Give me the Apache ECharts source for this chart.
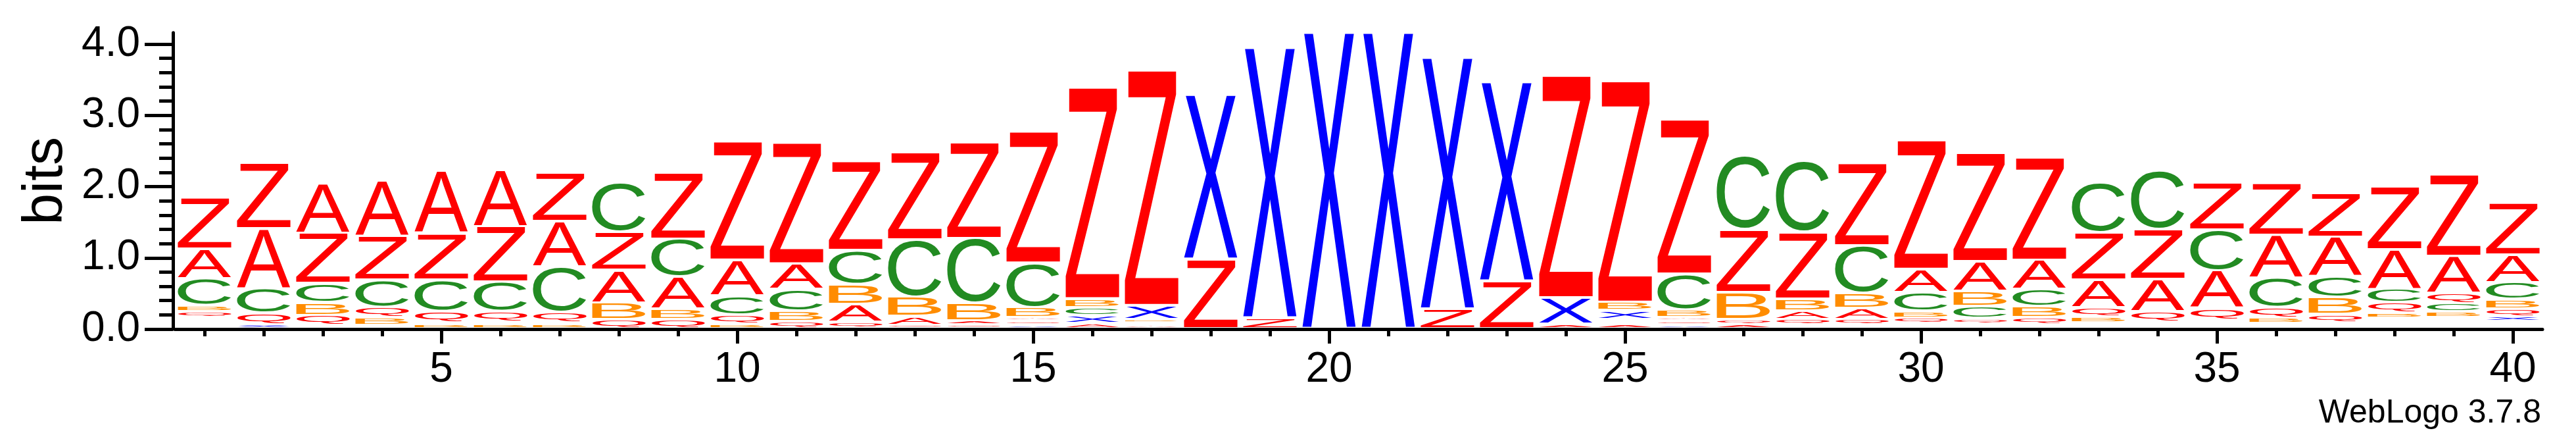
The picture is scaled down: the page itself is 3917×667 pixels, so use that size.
<!DOCTYPE html>
<html>
<head>
<meta charset="utf-8">
<script src="https://cdn.jsdelivr.net/npm/echarts@6/dist/echarts.min.js"></script>
<style>
  html, body { margin: 0; padding: 0; background: #fff; }
  #logo { width: 3917px; height: 667px; }
</style>
</head>
<body>
<div id="logo"></div>
<script>
// sequence positions along the x axis
const positions = [1, 2, 3, 4, 5, 6, 7, 8, 9, 10, 11, 12, 13, 14, 15, 16, 17, 18, 19, 20,
                   21, 22, 23, 24, 25, 26, 27, 28, 29, 30, 31, 32, 33, 34, 35, 36, 37, 38, 39, 40];

// letters in each stack, bottom to top ('.' = letters too small to be seen)
const stackLetters = [
  '.QBCAZ', 'XQCAZ', '.QBCZA', '.BQCZA', 'B.QCZA', 'B.QCZA', 'B.QCAZ', 'QBAZC', 'QBACZ', 'BQCAZ',
  'QBCAZ', 'QABCZ', 'QABCZ', 'QABCZ', 'XQABCZ', 'AXCBZ', 'A.BXZ', 'ZX', 'ZX', 'X',
  'X', 'ZX', 'ZX', 'AXZ', 'A.XBZ', 'XQABCZ', 'AQBZC', '.QABZC', '.QABCZ', '.QBCAZ',
  '.QCBAZ', '.QBCAZ', '.BQAZC', '.QAZC', '.QACZ', '.BQCAZ', '.QBCAZ', '.BQCAZ', '.BCQAZ', '.XQBCAZ'
];

// height of each letter in bits, same order as stackLetters
const stackBits = [
  [0.152, 0.086, 0.083, 0.379, 0.416, 0.727],
  [0.054, 0.161, 0.347, 0.838, 0.924],
  [0.044, 0.139, 0.179, 0.268, 0.708, 0.699],
  [0.044, 0.108, 0.148, 0.382, 0.610, 0.782],
  [0.060, 0.025, 0.153, 0.443, 0.656, 0.875],
  [0.060, 0.030, 0.148, 0.413, 0.776, 0.794],
  [0.060, 0.025, 0.144, 0.637, 0.635, 0.681],
  [0.122, 0.236, 0.456, 0.539, 0.699],
  [0.122, 0.148, 0.453, 0.532, 0.937],
  [0.060, 0.129, 0.271, 0.499, 1.669],
  [0.097, 0.141, 0.309, 0.358, 1.704],
  [0.088, 0.249, 0.277, 0.480, 1.256],
  [0.044, 0.124, 0.268, 0.809, 1.238],
  [0.051, 0.055, 0.247, 0.908, 1.351],
  [0.051, 0.051, 0.051, 0.139, 0.625, 1.850],
  [0.067, 0.111, 0.114, 0.123, 2.972],
  [0.051, 0.028, 0.049, 0.194, 3.307],
  [0.972, 2.312],
  [0.147, 3.800],
  [4.160],
  [4.160],
  [0.273, 3.533],
  [0.665, 2.799],
  [0.060, 0.370, 3.125],
  [0.060, 0.067, 0.124, 0.116, 3.110],
  [0.051, 0.051, 0.051, 0.108, 0.502, 2.174],
  [0.055, 0.072, 0.379, 0.878, 1.038],
  [0.054, 0.074, 0.117, 0.169, 0.933, 1.004],
  [0.051, 0.074, 0.157, 0.212, 0.665, 1.155],
  [0.065, 0.081, 0.092, 0.268, 0.323, 1.817],
  [0.065, 0.072, 0.170, 0.215, 0.416, 1.524],
  [0.054, 0.099, 0.154, 0.240, 0.412, 1.448],
  [0.074, 0.085, 0.132, 0.391, 0.665, 0.706],
  [0.097, 0.141, 0.453, 0.693, 0.822],
  [0.120, 0.162, 0.531, 0.571, 0.662],
  [0.069, 0.083, 0.139, 0.416, 0.600, 0.739],
  [0.085, 0.114, 0.237, 0.296, 0.551, 0.616],
  [0.143, 0.077, 0.142, 0.190, 0.554, 0.884],
  [0.152, 0.086, 0.115, 0.139, 0.523, 1.152],
  [0.097, 0.071, 0.107, 0.129, 0.240, 0.385, 0.736]
];

const yTickLabels = [0, 1, 2, 3, 4];
const yMinorTicks = [0.2, 0.4, 0.6, 0.8, 1.2, 1.4, 1.6, 1.8, 2.2, 2.4, 2.6, 2.8, 3.2, 3.4, 3.6, 3.8];
const xTickLabels = [5, 10, 15, 20, 25, 30, 35, 40];

const LETTERS = 'AZQCBX';
const COLORS = { A: '#ff0000', Z: '#ff0000', Q: '#ff0000', C: '#228b22', B: '#ff8c00', X: '#0000ff' };
const GLYPH_FONT = '100px "Liberation Sans", Arial, sans-serif';
const LETTER_GAP = 4;    // px of white between stacked letters
const STACK_LIFT = 3.5;  // px the stacks sit above the axis line
const COLUMN_FILL = 0.905;

// ink box of each glyph, measured the same way zrender draws it (center / middle)
const glyphBox = {};
(function () {
  const ctx = document.createElement('canvas').getContext('2d');
  ctx.font = GLYPH_FONT;
  ctx.textAlign = 'center';
  ctx.textBaseline = 'middle';
  LETTERS.split('').forEach(ch => {
    const m = ctx.measureText(ch);
    glyphBox[ch] = {
      left: m.actualBoundingBoxLeft,
      right: m.actualBoundingBoxRight,
      ascent: m.actualBoundingBoxAscent,
      descent: m.actualBoundingBoxDescent
    };
  });
})();

// [position, bottom bits, top bits, letter index]
const letterData = [];
positions.forEach((p, i) => {
  let acc = 0;
  stackLetters[i].split('').forEach((ch, j) => {
    const h = stackBits[i][j];
    if (ch !== '.') letterData.push([p, acc, acc + h, LETTERS.indexOf(ch)]);
    acc += h;
  });
});

function renderLetter(params, api) {
  const pos = api.value(0);
  const lo = api.coord([pos, api.value(1)]);
  const hi = api.coord([pos, api.value(2)]);
  const ch = LETTERS[api.value(3)];
  const w = api.size([1, 0])[0] * COLUMN_FILL;
  const bottom = lo[1] - STACK_LIFT;
  const top = hi[1] - STACK_LIFT + LETTER_GAP;
  const h = bottom - top;
  if (h < 0.3) return null;
  const g = glyphBox[ch];
  const sx = w / (g.left + g.right);
  const sy = h / (g.ascent + g.descent);
  return {
    type: 'text',
    x: lo[0] - w / 2 + sx * g.left,
    y: top + sy * g.ascent,
    scaleX: sx,
    scaleY: sy,
    style: {
      text: ch, x: 0, y: 0,
      font: GLYPH_FONT,
      fill: COLORS[ch],
      align: 'center', verticalAlign: 'middle',
      textAlign: 'center', textVerticalAlign: 'middle'
    }
  };
}

const axisBlack = { color: '#000', width: 5 };

const chart = echarts.init(document.getElementById('logo'));
chart.setOption({
  animation: false,
  backgroundColor: '#fff',
  textStyle: { fontFamily: 'Liberation Sans, Arial, sans-serif', color: '#000' },
  grid: { left: 266, right: 51, top: 49.7, bottom: 167, containLabel: false },
  xAxis: [
    {
      type: 'value', min: 0.5, max: 40.5, position: 'bottom',
      axisLine: { show: true, lineStyle: axisBlack },
      axisTick: { show: true, length: 11, lineStyle: axisBlack, customValues: positions },
      axisLabel: { show: false },
      splitLine: { show: false }
    },
    {
      type: 'value', min: 0.5, max: 40.5, position: 'bottom',
      axisLine: { show: false },
      axisTick: { show: true, length: 22, lineStyle: axisBlack, customValues: xTickLabels },
      axisLabel: { show: true, customValues: xTickLabels, fontSize: 64, color: '#000', margin: 30 },
      splitLine: { show: false }
    }
  ],
  yAxis: [
    {
      type: 'value', min: 0, max: 4.16, position: 'left', offset: 3,
      name: 'bits', nameLocation: 'middle', nameGap: 136,
      nameTextStyle: { fontSize: 86, color: '#000' },
      axisLine: { show: true, lineStyle: axisBlack },
      axisTick: { show: true, length: 43, lineStyle: axisBlack, customValues: yTickLabels },
      axisLabel: {
        show: true, customValues: yTickLabels, fontSize: 64, color: '#000', margin: 50,
        formatter: v => v.toFixed(1)
      },
      splitLine: { show: false }
    },
    {
      type: 'value', min: 0, max: 4.16, position: 'left', offset: 3,
      axisLine: { show: false },
      axisTick: { show: true, length: 21, lineStyle: axisBlack, customValues: yMinorTicks },
      axisLabel: { show: false },
      splitLine: { show: false }
    }
  ],
  graphic: [
    {
      type: 'text', right: 53, top: 603,
      style: { text: 'WebLogo 3.7.8', font: '50px "Liberation Sans", Arial, sans-serif', fill: '#000' }
    }
  ],
  series: [
    {
      type: 'custom',
      renderItem: renderLetter,
      encode: { x: 0, y: [1, 2] },
      data: letterData,
      clip: false
    }
  ]
});
</script>
</body>
</html>
